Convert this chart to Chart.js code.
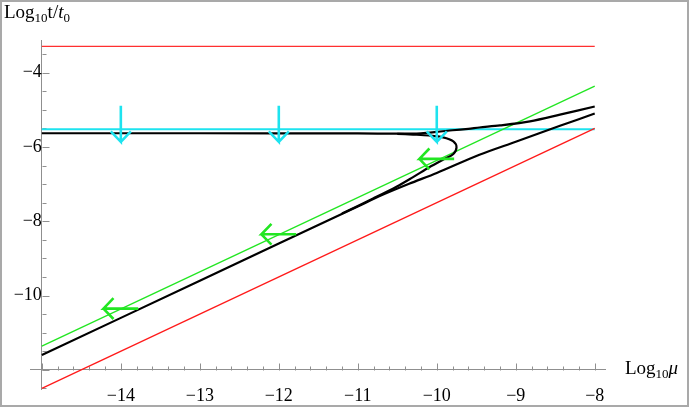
<!DOCTYPE html>
<html>
<head>
<meta charset="utf-8">
<script src="https://cdn.jsdelivr.net/npm/chart.js@4.4.0/dist/chart.umd.min.js"></script>
<style>
  body { margin: 0; background: #fff; }
  #wrap { position: relative; width: 689px; height: 407px; }
  #frame { position: absolute; left: 0; top: 0; width: 689px; height: 407px; box-sizing: border-box; border: 2px solid #a9a9a9; pointer-events: none; }
  .lab { position: absolute; font-family: "Liberation Serif", serif; font-size: 19px; line-height: 19px; color: #000; white-space: nowrap; }
  .lab .s { font-size: 13px; position: relative; top: 4px; }
</style>
</head>
<body>
<div id="wrap">
  <canvas id="chart" width="689" height="407"></canvas>
  <div id="frame"></div>
  <div class="lab" style="left:4px; top:2px;">Log<span class="s">10</span>t/<i>t</i><span class="s">0</span></div>
  <div class="lab" style="left:625px; top:358px;">Log<span class="s">10</span><i>μ</i></div>
</div>
<script>
// x = Log10 mu, y = Log10 t/t0
const xTicks = [-14, -13, -12, -11, -10, -9, -8];
const yTicks = [-10, -8, -6, -4];

const lineX = [-15, -8];
const redTopY = [-3.29, -3.29];
const cyanY = [-5.52, -5.52];
const redDiagY = [-12.5, -5.5];
const greenDiagY = [-11.36, -4.36];

// upper black branch (flat, then rising)
const upperX = [-15, -13, -11, -10.5, -10.2, -10.0, -9.8, -9.6, -9.46, -9.2, -8.82, -8.44, -8];
const upperY = [-5.63, -5.63, -5.635, -5.64, -5.63, -5.595, -5.55, -5.51, -5.475, -5.42, -5.31, -5.13, -4.91];

// lower black branch
const lowerX = [-15, -13, -11, -10.7, -10.35, -10.0, -9.46, -9.0, -8.44, -8];
const lowerY = [-11.6, -9.6, -7.6, -7.3, -6.99, -6.70, -6.21, -5.86, -5.43, -5.10];

// fold that turns back from the flat branch
const foldX = [-10.5, -10.3, -10.1, -9.92, -9.79, -9.75, -9.79, -9.90, -10.09, -10.30, -10.51, -10.8, -11.2];
const foldY = [-5.645, -5.665, -5.69, -5.74, -5.85, -6.01, -6.19, -6.32, -6.54, -6.81, -7.07, -7.38, -7.79];

// arrows
const cyanArrowX = [-14, -12, -10];
const cyanArrowTop = -4.89;
const cyanArrowTip = -5.86;
const greenArrowX = [-14, -12, -10];
const greenArrowY = [-10.35, -8.35, -6.32];

const axisGray = '#8f8f8f';
const headDx = 0.127;
const headDy = 0.28;
const greenHalf = 0.22;

function pts(xs, ys) {
    return xs.map((x, i) => ({x: x, y: ys[i]}));
}

function cyanArrows() {
    let out = [];
    cyanArrowX.forEach(x0 => {
        out.push({x: x0, y: cyanArrowTop}, {x: x0, y: cyanArrowTip}, {x: x0 - headDx, y: cyanArrowTip + headDy}, {x: x0, y: null});
        out.push({x: x0 + headDx, y: cyanArrowTip + headDy}, {x: x0, y: cyanArrowTip}, {x: x0, y: null});
    });
    return out;
}

function greenArrows() {
    let out = [];
    greenArrowX.forEach((x0, i) => {
        const y0 = greenArrowY[i];
        const tip = x0 - greenHalf;
        out.push({x: x0 + greenHalf, y: y0}, {x: tip, y: y0}, {x: tip + headDx, y: y0 + headDy}, {x: x0, y: null});
        out.push({x: tip + headDx, y: y0 - headDy}, {x: tip, y: y0}, {x: x0, y: null});
    });
    return out;
}

function fmt(v) {
    return v < 0 ? '\u2212' + Math.abs(v) : String(v);
}

// Mathematica style ticks pointing into the plot
const inwardTicks = {
    id: 'inwardTicks',
    beforeDatasetsDraw(chart) {
        const ctx = chart.ctx;
        const x = chart.scales.x;
        const y = chart.scales.y;
        const ox = Math.round(x.getPixelForValue(-15)) + 0.5;
        const oy = Math.round(y.getPixelForValue(-12)) + 0.5;
        ctx.save();
        ctx.strokeStyle = axisGray;
        ctx.lineWidth = 1;
        ctx.beginPath();
        for (let i = 0; i <= 35; i++) {
            const px = Math.round(x.getPixelForValue(-15 + i * 0.2)) + 0.5;
            const len = i % 5 === 0 ? 7 : 4;
            ctx.moveTo(px, oy);
            ctx.lineTo(px, oy - len);
        }
        for (let i = 0; i <= 18; i++) {
            const v = -12.5 + i * 0.5;
            const py = Math.round(y.getPixelForValue(v)) + 0.5;
            const len = v % 2 === 0 ? 7 : 4;
            ctx.moveTo(ox, py);
            ctx.lineTo(ox + len, py);
        }
        ctx.stroke();
        ctx.restore();
    }
};

const tickFont = {family: 'Liberation Serif', size: 18};

new Chart(document.getElementById('chart'), {
    type: 'scatter',
    data: {
        datasets: [
            {data: greenArrows(), borderColor: '#22e622', borderWidth: 2.6, spanGaps: false},
            {data: cyanArrows(), borderColor: '#1ee3ef', borderWidth: 2.6, spanGaps: false},
            {data: pts(upperX, upperY), borderColor: '#000', borderWidth: 2.2, tension: 0.3},
            {data: pts(foldX, foldY), borderColor: '#000', borderWidth: 2.2, tension: 0.3},
            {data: pts(lowerX, lowerY), borderColor: '#000', borderWidth: 2.2, tension: 0.3},
            {data: pts(lineX, greenDiagY), borderColor: '#22e622', borderWidth: 1.3},
            {data: pts(lineX, redDiagY), borderColor: '#ff1a1a', borderWidth: 1.3},
            {data: pts(lineX, redTopY), borderColor: '#ff3030', borderWidth: 1.3},
            {data: pts(lineX, cyanY), borderColor: '#1ee3ef', borderWidth: 2}
        ]
    },
    options: {
        responsive: false,
        animation: false,
        events: [],
        showLine: true,
        elements: {point: {radius: 0}},
        layout: {padding: {left: 30, right: 84, top: 40, bottom: 14}},
        plugins: {legend: {display: false}, tooltip: {enabled: false}},
        scales: {
            x: {
                type: 'linear',
                min: -15.15,
                max: -7.87,
                position: {y: -12},
                border: {color: axisGray, width: 1},
                grid: {display: false, drawTicks: false},
                ticks: {
                    stepSize: 1, includeBounds: false, autoSkip: false, maxRotation: 0,
                    padding: 16, color: '#000', font: tickFont,
                    callback: v => xTicks.includes(v) ? fmt(v) : ''
                }
            },
            y: {
                type: 'linear',
                min: -12.52,
                max: -3.12,
                position: {x: -15},
                border: {color: axisGray, width: 1},
                grid: {display: false, drawTicks: false},
                ticks: {
                    stepSize: 2, includeBounds: false, autoSkip: false,
                    padding: 7, color: '#000', font: tickFont,
                    callback: v => yTicks.includes(v) ? fmt(v) : ''
                }
            }
        }
    },
    plugins: [inwardTicks]
});
</script>
</body>
</html>
